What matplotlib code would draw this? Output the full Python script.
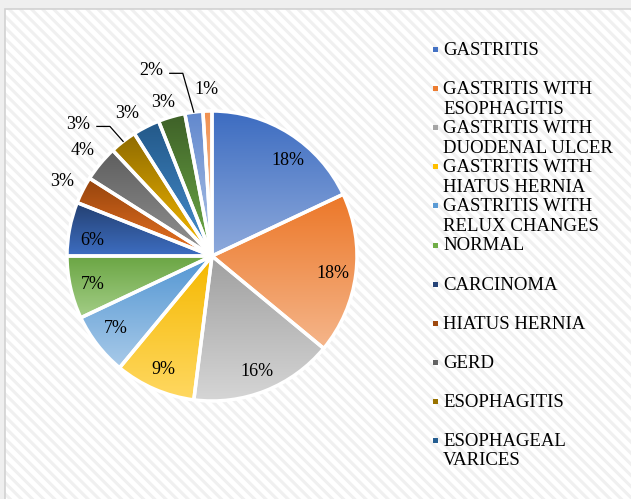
import colorsys
import matplotlib.pyplot as plt
import matplotlib.colors as mcolors
from matplotlib.patches import Rectangle
import numpy as np

plt.rcParams['font.family'] = ['Liberation Serif', 'DejaVu Serif']
plt.rcParams['hatch.linewidth'] = 2.2

# slice values in percent, clockwise from 12 o'clock
values = [18, 18, 16, 9, 7, 7, 6, 3, 4, 3, 3, 3, 2, 1]
# only the first 11 categories fit in the legend of the original
legend_labels = ["GASTRITIS", "GASTRITIS WITH\nESOPHAGITIS",
                 "GASTRITIS WITH\nDUODENAL ULCER", "GASTRITIS WITH\nHIATUS HERNIA",
                 "GASTRITIS WITH\nRELUX CHANGES", "NORMAL", "CARCINOMA",
                 "HIATUS HERNIA", "GERD", "ESOPHAGITIS", "ESOPHAGEAL\nVARICES"]
colors = ["#4472C4", "#ED7D31", "#A5A5A5", "#FFC000", "#5B9BD5", "#70AD47",
          "#264478", "#9E480E", "#636363", "#997300", "#255E91", "#43682B",
          "#698ED0", "#F1975A"]

W, H = 631, 499
cx, cy, R = 212, 256, 145   # pie centre / radius in pixels


def px(x, y):
    # pixel position (from top-left) -> data coords of the pie axes
    return (x - cx) / R, (cy - y) / R


def shade(c, dl):
    r, g, b = mcolors.to_rgb(c)
    h, l, s = colorsys.rgb_to_hls(r, g, b)
    return np.array(colorsys.hls_to_rgb(h, min(max(l + dl, 0), 1), s))


fig = plt.figure(figsize=(W / 100, H / 100), dpi=100, facecolor='#efefef')

# striped chart area + thin border
fig.patches.append(Rectangle((5 / W, -0.1), 1.1, 1.1 - 9 / H, transform=fig.transFigure,
                             facecolor='white', edgecolor='#f0f0f0', hatch='\\\\\\',
                             lw=0, zorder=0))
fig.patches.append(Rectangle((5 / W, -0.1), 1.1, 1.1 - 9 / H, transform=fig.transFigure,
                             facecolor='none', edgecolor='#d2d2d2', lw=1.2, zorder=0.5))

ax = fig.add_axes([0, 0, 1, 1], zorder=2)
ax.patch.set_alpha(0)

wedges, _ = ax.pie(values, colors=colors, startangle=90, counterclock=False,
                   wedgeprops=dict(edgecolor='white', linewidth=2.5))

# vertical gradient inside each wedge (darker top, lighter bottom)
for w, c in zip(wedges, colors):
    bb = w.get_path().get_extents()
    top, bot = shade(c, -0.02), shade(c, 0.19)
    t = np.linspace(0, 1, 64)[:, None, None]
    grad = top + t * (bot - top)
    im = ax.imshow(grad, extent=(bb.x0, bb.x1, bb.y0, bb.y1), origin='upper',
                   aspect='auto', interpolation='bilinear', zorder=1)
    im.set_clip_path(w)
    w.set_facecolor('none')
    w.set_zorder(2)

# percentage labels; Excel nudged a few, two got leader lines
nudge = {0: (0.07, -0.04), 6: (0, -0.04), 4: (0, 0.03), 10: (-0.06, -0.04), 11: (-0.01, -0.04)}
leader = {9: (-0.213, 0.007), 12: (-0.276, 0.139)}
for i, (w, v) in enumerate(zip(wedges, values)):
    ang = np.radians((w.theta1 + w.theta2) / 2)
    d = 0.84 if v >= 5 else 1.16
    x, y = d * np.cos(ang), d * np.sin(ang)
    dx, dy = nudge.get(i, leader.get(i, (0, 0)))
    x, y = x + dx, y + dy
    if i in leader:
        ex, ey = np.cos(ang), np.sin(ang)
        ax.plot([x + 0.13, x + 0.22, ex], [y - 0.03, y - 0.03, ey],
                color='black', lw=0.9, zorder=3)
    ax.text(x, y, f"{v}%", ha='center', va='center_baseline', fontsize=13,
            color='black', zorder=4)

# legend drawn by hand to copy Excel's spacing
for i, lab in enumerate(legend_labels):
    yc = 49 + i * 39.1
    mx, my = px(435, yc)
    ax.plot(mx, my, 's', color=colors[i], markersize=3.6, markeredgewidth=0)
    for j, line in enumerate(lab.split('\n')):
        tx, ty = px(443, yc + 6 + j * 19.5)
        ax.text(tx, ty, line, ha='left', va='baseline', fontsize=13.5, color='black')

ax.set_xlim(-cx / R, (W - cx) / R)
ax.set_ylim(-(H - cy) / R, cy / R)
ax.set_aspect('auto')
ax.axis('off')

fig.savefig('out.png', dpi=100, facecolor=fig.get_facecolor())
